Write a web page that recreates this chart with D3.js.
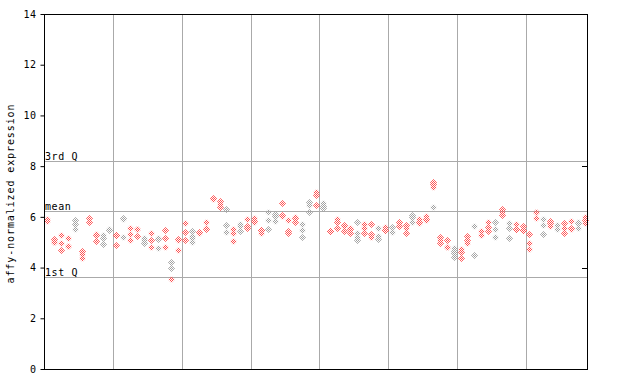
<!DOCTYPE html>
<html>
<head>
<meta charset="utf-8">
<script src="https://cdn.jsdelivr.net/npm/d3@7"></script>
<style>
  body { margin: 0; background: #fff; }
  text { font-family: "DejaVu Sans Mono", monospace; }
</style>
</head>
<body>
<div id="chart"></div>
<script>
// Define SVG area dimensions
var svgWidth = 640;
var svgHeight = 384;

var margin = { top: 14, right: 52, bottom: 15, left: 44 };
var width = svgWidth - margin.left - margin.right;
var height = svgHeight - margin.top - margin.bottom;

// expression values per sample (replicates)
var sampleValues = [
  [5.92, 5.82], [5.13, 5.02, 4.99], [5.28, 4.96, 4.68], [5.15, 4.86, 4.84], [5.88, 5.71, 5.51],
  [4.66, 4.52, 4.37], [5.94, 5.81], [5.31, 5.29, 5.05], [5.28, 5.15, 4.93], [5.53, 5.50],
  [5.30, 5.27, 4.88], [5.97, 5.90, 5.19], [5.55, 5.31, 5.09], [5.54, 5.52, 5.23], [5.18, 5.09, 4.98],
  [5.35, 5.09, 4.80], [5.18, 5.12, 4.77], [5.48, 5.15, 4.80], [4.22, 3.97, 3.54], [5.12, 5.10, 4.69],
  [5.74, 5.41, 5.07], [5.45, 5.26, 5.15, 5.02], [5.40, 5.38], [5.81, 5.56, 5.54], [6.76, 6.72],
  [6.64, 6.51, 6.38], [6.31, 5.67, 5.39], [5.51, 5.37, 5.04], [5.72, 5.62, 5.43], [5.91, 5.65, 5.55],
  [5.94, 5.82, 5.80], [5.49, 5.47, 5.35], [6.18, 5.86, 5.51], [6.13, 6.03, 5.85], [6.53, 6.06, 6.04],
  [5.88, 5.45, 5.35], [5.99, 5.97, 5.78], [5.72, 5.47, 5.19], [6.57, 6.47, 6.20], [6.97, 6.86, 6.47],
  [6.53, 6.43, 6.34], [5.46, 5.44], [5.90, 5.78, 5.55], [5.66, 5.64, 5.45], [5.56, 5.54, 5.38],
  [5.78, 5.35, 5.22, 5.09], [5.72, 5.55, 5.38], [5.72, 5.31, 5.19], [5.55, 5.24, 5.11], [5.61, 5.49, 5.47],
  [5.61, 5.41], [5.78, 5.76, 5.64], [5.68, 5.55, 5.38], [6.07, 5.98, 5.81], [5.91, 5.78, 5.76],
  [6.03, 5.91, 5.89], [7.39, 7.30, 7.19, 6.38], [5.20, 5.10, 4.96], [5.09, 4.83, 4.81], [4.76, 4.66, 4.56, 4.40],
  [4.72, 4.61, 4.36], [5.24, 5.09, 4.98], [5.64, 4.50], [5.45, 5.27], [5.78, 5.61, 5.44],
  [5.78, 5.51, 5.19], [6.30, 6.20, 6.07], [5.77, 5.57, 5.15], [5.72, 5.53, 5.51], [5.64, 5.49, 5.47],
  [5.32, 4.96, 4.72], [6.21, 6.19, 5.94], [5.90, 5.67, 5.31], [5.84, 5.77, 5.64], [5.68, 5.51],
  [5.77, 5.55, 5.35], [5.85, 5.56, 5.54], [5.78, 5.76, 5.55], [5.98, 5.88, 5.77]
];

// samples drawn in grey (1-based); the "mixed" ones flip colour on their lowest point
var greySamples = [5, 9, 10, 12, 15, 17, 19, 22, 27, 29, 33, 34, 38, 39, 41, 46, 49,
  51, 54, 60, 63, 66, 68, 73, 75, 78];
var mixedSamples = [19, 57];

var yTicks = [0, 2, 4, 6, 8, 10, 12, 14];
var rightTicks = [4, 8];
var refLines = [
  { label: "3rd Q", value: 8.22 },
  { label: "mean", value: 6.22 },
  { label: "1st Q", value: 3.63 }
];
var groupSize = 10;

var svg = d3.select("#chart")
  .append("svg")
  .attr("width", svgWidth)
  .attr("height", svgHeight);

// checkered fills for the diamonds
var defs = svg.append("defs");
[["red", "#ff5050"], ["grey", "#a0a0a0"]].forEach(function(p) {
  var pat = defs.append("pattern")
    .attr("id", "chk-" + p[0])
    .attr("patternUnits", "userSpaceOnUse")
    .attr("width", 2).attr("height", 2);
  pat.append("rect").attr("x", 0).attr("y", 0).attr("width", 1).attr("height", 1).attr("fill", p[1]);
  pat.append("rect").attr("x", 1).attr("y", 1).attr("width", 1).attr("height", 1).attr("fill", p[1]);
});

var chartGroup = svg.append("g")
  .attr("transform", `translate(${margin.left}, ${margin.top})`);

var n = sampleValues.length;
var xScale = d3.scaleLinear().domain([0, n]).range([0, width]);
var yScale = d3.scaleLinear().domain([0, 14]).range([height, 0]);

// vertical grid lines between groups
var gridPos = d3.range(groupSize, n, groupSize);
chartGroup.selectAll(".vgrid")
  .data(gridPos)
  .enter().append("line")
  .attr("x1", d => Math.round(xScale(d)) + 0.5)
  .attr("x2", d => Math.round(xScale(d)) + 0.5)
  .attr("y1", 0).attr("y2", height)
  .attr("stroke", "#aaaaaa");

// reference lines
chartGroup.selectAll(".ref")
  .data(refLines)
  .enter().append("line")
  .attr("x1", 0).attr("x2", width)
  .attr("y1", d => Math.round(yScale(d.value)) + 0.5)
  .attr("y2", d => Math.round(yScale(d.value)) + 0.5)
  .attr("stroke", "#aaaaaa");

chartGroup.selectAll(".refLabel")
  .data(refLines)
  .enter().append("text")
  .attr("x", 1)
  .attr("y", d => Math.round(yScale(d.value)) - 1)
  .attr("font-size", "10px")
  .attr("letter-spacing", "0.6px")
  .attr("fill", "#000")
  .text(d => d.label);

// points
var points = [];
sampleValues.forEach(function(vals, i) {
  var grey = greySamples.indexOf(i + 1) >= 0;
  var mixed = mixedSamples.indexOf(i + 1) >= 0;
  var lowest = d3.min(vals);
  vals.forEach(function(v) {
    var g = (mixed && v === lowest) ? !grey : grey;
    points.push({ i: i, v: v, grey: g });
  });
});

chartGroup.selectAll(".pt")
  .data(points)
  .enter().append("path")
  .attr("d", function(d) {
    var cx = Math.round(xScale(d.i + 0.5)) + 0.5;
    var cy = Math.round(yScale(d.v)) + 0.5;
    var r = 3.5;
    return `M${cx},${cy - r}L${cx + r},${cy}L${cx},${cy + r}L${cx - r},${cy}Z`;
  })
  .attr("fill", d => d.grey ? "url(#chk-grey)" : "url(#chk-red)");

// frame
chartGroup.append("rect")
  .attr("x", 0.5).attr("y", 0.5)
  .attr("width", width - 1).attr("height", height)
  .attr("fill", "none")
  .attr("stroke", "#000");

// small inner ticks on the right edge
chartGroup.selectAll(".rtick")
  .data(rightTicks)
  .enter().append("line")
  .attr("x1", width - 6).attr("x2", width)
  .attr("y1", d => Math.round(yScale(d)) + 0.5)
  .attr("y2", d => Math.round(yScale(d)) + 0.5)
  .attr("stroke", "#000");

// left axis
var leftAxis = d3.axisLeft(yScale).tickValues(yTicks).tickSize(4).tickPadding(4);
var axisG = chartGroup.append("g")
  .attr("transform", "translate(0.5,0)")
  .call(leftAxis);
axisG.select(".domain").remove();
axisG.selectAll("line").attr("stroke", "#000");
axisG.selectAll("text")
  .attr("font-family", "DejaVu Sans Mono, monospace")
  .attr("font-size", "10px")
  .attr("letter-spacing", "0.5px")
  .attr("fill", "#000");

// y axis label
svg.append("text")
  .attr("transform", `translate(14, ${margin.top + height / 2 + 2}) rotate(-90)`)
  .attr("text-anchor", "middle")
  .attr("font-size", "10px")
  .attr("letter-spacing", "0.9px")
  .attr("fill", "#000")
  .text("affy-normalized expression");
</script>
</body>
</html>
